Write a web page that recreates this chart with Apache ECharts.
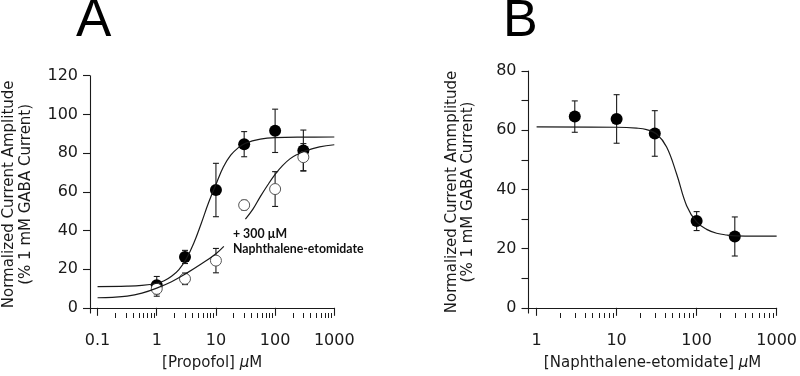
<!DOCTYPE html>
<html>
<head>
<meta charset="utf-8">
<script src="https://cdn.jsdelivr.net/npm/echarts@6/dist/echarts.min.js"></script>
<style>
  html, body { margin: 0; padding: 0; background: #fff; }
  #chart { width: 800px; height: 376px; }
</style>
</head>
<body>
<div id="chart"></div>
<script>
// Panel A: propofol alone (filled) and with 300 uM naphthalene-etomidate (open)
const propofolConc = [1, 3, 10, 30, 100, 300];
const propofolMean = [11.7, 26.3, 60.9, 84.6, 91.5, 81.3];
const propofolErr = [4.5, 3.4, 13.8, 6.5, 11.2, 10.6];
const withNetMean = [9.8, 15.0, 24.4, 53.1, 61.4, 77.9];
const withNetErr = [3.8, 3.0, 6.3, 2.5, 9.0, 7.0];

// fitted curves
const propofolFitX = [0.1, 0.316, 0.562, 1, 1.334, 1.778, 2.371, 3.162, 4.217, 5.623, 7.499, 10, 13.34, 17.78, 23.71, 31.62, 56.23, 100, 316.2, 1000];
const propofolFitY = [11.0, 11.2, 11.6, 12.7, 14.0, 16.3, 19.8, 25.4, 33.4, 43.5, 54.3, 63.8, 72.8, 78.9, 82.7, 85.1, 87.2, 88.0, 88.25, 88.3];
const withNetFitX1 = [0.1, 0.178, 0.316, 0.562, 1, 1.778, 3.162, 5.623, 10, 13.6];
const withNetFitY1 = [5.2, 5.4, 6.0, 7.6, 10.2, 13.5, 17.8, 22.6, 28.0, 31.8];
const withNetFitX2 = [31.5, 42.2, 56.23, 75, 100, 133.4, 177.8, 237.1, 316.2, 562.3, 1000];
const withNetFitY2 = [45.9, 51.0, 57.5, 63.5, 69.0, 73.5, 77.0, 79.3, 81.0, 83.2, 84.3];

// Panel B: naphthalene-etomidate inhibition
const netConc = [3, 10, 30, 100, 300];
const netMean = [64.6, 63.8, 58.9, 29.3, 24.1];
const netErr = [5.3, 8.2, 7.7, 3.2, 6.6];
const netFitX = [1, 10, 17.78, 23.71, 31.62, 42.17, 56.23, 74.99, 100, 133.4, 177.8, 237.1, 316.2, 1000];
const netFitY = [61.1, 61.0, 60.7, 60.2, 58.7, 54.3, 45.2, 34.5, 29.0, 26.5, 25.2, 24.6, 24.3, 24.2];

// axis ticks
const xTicksA = [0.1, 1, 10, 100, 1000];
const xTicksB = [1, 10, 100, 1000];
const yTicksA = [0, 20, 40, 60, 80, 100, 120];
const yLabelsB = [0, 20, 40, 60, 80];
const yTicksB = [0, 10, 20, 30, 40, 50, 60, 70, 80];
const minorSteps = [2, 3, 4, 5, 6, 7, 8, 9];

const ink = '#1a1a1a';
const font = 'DejaVu Sans';

function zip(xs, ys) { return xs.map((x, i) => [x, ys[i]]); }
function bars(xs, m, e) { return xs.map((x, i) => [x, m[i] - e[i], m[i] + e[i]]); }
function minors(decades) {
    let out = [];
    decades.forEach(d => minorSteps.forEach(k => out.push(+(d * k).toPrecision(6))));
    return out;
}

function errorBars(xIdx, yIdx, data) {
    return {
        type: 'custom',
        xAxisIndex: xIdx,
        yAxisIndex: yIdx,
        encode: {x: 0, y: [1, 2]},
        data: data,
        renderItem: function (params, api) {
            const lo = api.coord([api.value(0), api.value(1)]);
            const hi = api.coord([api.value(0), api.value(2)]);
            const w = 3;
            const st = {stroke: ink, lineWidth: 1.1};
            return {
                type: 'group',
                children: [
                    {type: 'line', shape: {x1: lo[0], y1: lo[1], x2: hi[0], y2: hi[1]}, style: st},
                    {type: 'line', shape: {x1: lo[0] - w, y1: lo[1], x2: lo[0] + w, y2: lo[1]}, style: st},
                    {type: 'line', shape: {x1: hi[0] - w, y1: hi[1], x2: hi[0] + w, y2: hi[1]}, style: st}
                ]
            };
        }
    };
}

function curve(xIdx, yIdx, data) {
    return {
        type: 'line', xAxisIndex: xIdx, yAxisIndex: yIdx, data: data,
        showSymbol: false, smooth: 0.4,
        lineStyle: {color: ink, width: 1.2}, silent: true
    };
}

function xMajor(grid, min, ticks, name) {
    return {
        type: 'log', gridIndex: grid, min: min, max: 1000, position: 'bottom',
        name: name, nameLocation: 'middle', nameGap: 43,
        nameTextStyle: {fontFamily: font, fontSize: 15, color: ink,
            rich: {mu: {fontFamily: font, fontSize: 15, fontStyle: 'italic', color: ink}}},
        axisLine: {lineStyle: {color: ink, width: 1.1}},
        axisTick: {customValues: ticks, length: 8, lineStyle: {color: ink, width: 1.1}},
        axisLabel: {customValues: ticks, margin: 20, fontFamily: font, fontSize: 16, color: ink,
            formatter: v => String(+(+v).toPrecision(6))},
        splitLine: {show: false}
    };
}
function xMinor(grid, min, ticks) {
    return {
        type: 'log', gridIndex: grid, min: min, max: 1000, position: 'bottom',
        axisLine: {show: false},
        axisTick: {customValues: ticks, length: 5, lineStyle: {color: ink, width: 1}},
        axisLabel: {show: false},
        splitLine: {show: false}
    };
}
function yAxis(grid, min, max, ticks, labels, name, gap) {
    return {
        type: 'value', gridIndex: grid, min: min, max: max,
        name: name, nameLocation: 'middle', nameGap: gap, nameRotate: 90,
        nameTextStyle: {fontFamily: font, fontSize: 15, color: ink, lineHeight: 16.5},
        axisLine: {show: true, lineStyle: {color: ink, width: 1.1}},
        axisTick: {show: true, customValues: ticks, length: 7, lineStyle: {color: ink, width: 1.1}},
        axisLabel: {customValues: labels, margin: 12, fontFamily: font, fontSize: 16, color: ink},
        splitLine: {show: false}
    };
}

const chart = echarts.init(document.getElementById('chart'), null, {renderer: 'canvas'});
chart.setOption({
    backgroundColor: '#fff',
    animation: false,
    grid: [
        {left: 89, top: 75.7, width: 245.3, height: 237.8},
        {left: 528.5, top: 71, width: 250.5, height: 242.5}
    ],
    xAxis: [
        xMajor(0, 0.0745, xTicksA, '[Propofol] {mu|\u03bc}M'),
        xMinor(0, 0.0745, minors([0.1, 1, 10, 100])),
        xMajor(1, 0.792, xTicksB, '[Naphthalene-etomidate] {mu|\u03bc}M'),
        xMinor(1, 0.792, minors([1, 10, 100]))
    ],
    yAxis: [
        yAxis(0, -2.68, 120, yTicksA, yTicksA, 'Normalized Current Amplitude\n(% 1 mM GABA Current)', 56),
        yAxis(1, -1.75, 80, yTicksB, yLabelsB, 'Normalized Current Ammplitude\n(% 1 mM GABA Current)', 52)
    ],
    graphic: [
        {type: 'text', left: 76, top: -5, style: {text: 'A', font: '53px "Liberation Sans"', fill: '#000'}},
        {type: 'text', left: 503, top: -4, style: {text: 'B', font: '52px "Liberation Sans"', fill: '#000'}},
        {type: 'text', left: 233, top: 227, style: {text: '+ 300 \u00b5M\nNaphthalene-etomidate',
            font: 'bold 12.3px Lato', lineHeight: 14.5, fill: '#111'}}
    ],
    series: [
        curve(0, 0, zip(propofolFitX, propofolFitY)),
        curve(0, 0, zip(withNetFitX1, withNetFitY1)),
        curve(0, 0, zip(withNetFitX2, withNetFitY2)),
        errorBars(0, 0, bars(propofolConc, propofolMean, propofolErr)),
        {
            type: 'scatter', xAxisIndex: 0, yAxisIndex: 0, symbolSize: 12,
            itemStyle: {color: '#000', opacity: 1},
            data: zip(propofolConc, propofolMean)
        },
        errorBars(0, 0, bars(propofolConc, withNetMean, withNetErr)),
        {
            type: 'scatter', xAxisIndex: 0, yAxisIndex: 0, symbolSize: 11,
            itemStyle: {color: '#fff', borderColor: '#555', borderWidth: 1, opacity: 1},
            data: zip(propofolConc, withNetMean)
        },
        curve(2, 1, zip(netFitX, netFitY)),
        errorBars(2, 1, bars(netConc, netMean, netErr)),
        {
            type: 'scatter', xAxisIndex: 2, yAxisIndex: 1, symbolSize: 12,
            itemStyle: {color: '#000', opacity: 1},
            data: zip(netConc, netMean)
        }
    ]
});
</script>
</body>
</html>
